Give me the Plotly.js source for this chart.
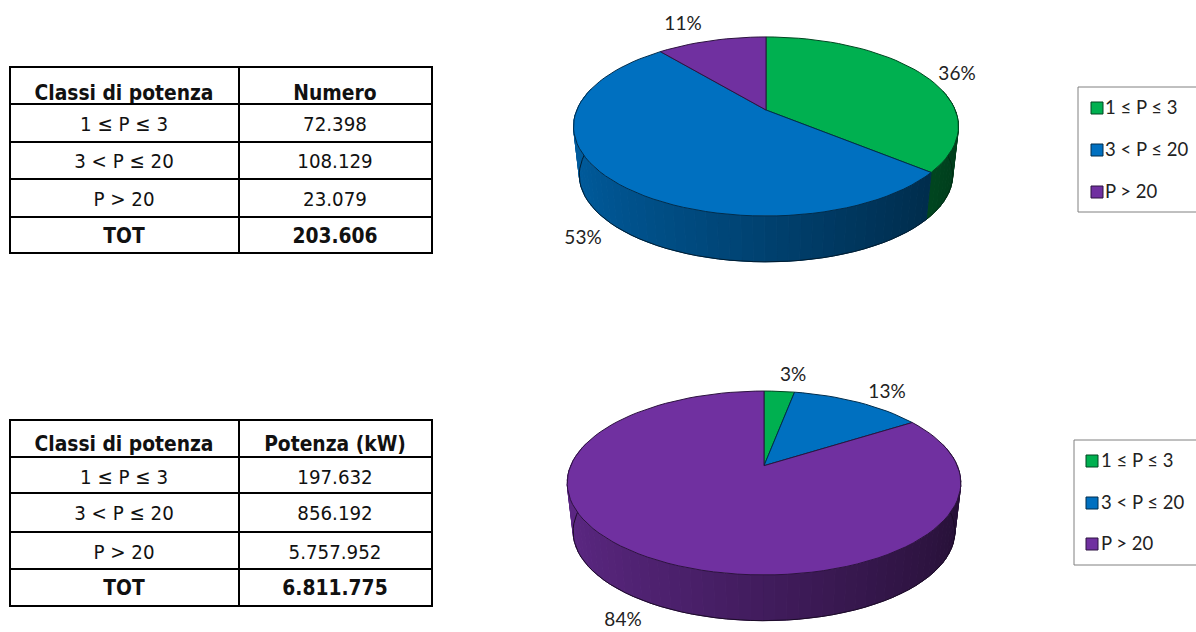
<!DOCTYPE html>
<html><head><meta charset="utf-8">
<script src="https://cdn.plot.ly/plotly-3.0.1.min.js"></script>
<style>html,body{margin:0;padding:0;background:#fff;overflow:hidden}#c{width:1196px;height:632px}</style>
</head><body><div id="c"></div>
<script>
// ---- data ----
const categories = ['1 ≤ P ≤ 3', '3 < P ≤ 20', 'P > 20'];
const numeroShare = [36, 53, 11];
const potenzaShare = [3, 13, 84];
const numeroText = ['72.398', '108.129', '23.079', '203.606'];
const potenzaText = ['197.632', '856.192', '5.757.952', '6.811.775'];
const firstColHeader = 'Classi di potenza';
const totalLabel = 'TOT';
const colors = ['#00B050', '#0070C0', '#7030A0'];

// ---- layout constants ----
const TEXT_FONT = 'DejaVu Sans Condensed, DejaVu Sans, sans-serif';
const LABEL_FONT = 'Lato, Carlito, sans-serif';
const tableX = [10, 239, 432], colCenter = [124, 335];
const tableCfg = [
  {head: 'Numero', body: numeroText, edges: [67, 104, 142, 179, 217, 253], textY: [95, 126, 163, 201, 238]},
  {head: 'Potenza (kW)', body: potenzaText, edges: [420, 457, 493, 532, 569, 606], textY: [446, 479, 515, 554, 590]}
];
const pieCfg = [
  {values: numeroShare, cx: 766, ay: 110, A: 189.2, b: 86.5, k: 0.184, s: 0.97, d: 49,
   labelX: [957, 583, 683], labelY: [75, 239, 25]},
  {values: potenzaShare, cx: 764, ay: 465.7, A: 193.3, b: 88.7, k: 0.188, s: 0.97, d: 49,
   labelX: [793, 887, 623], labelY: [376, 393, 621]}
];
const legendCfg = [
  {box: [1078, 87, 1210, 212], mx: 1097, tx: 1105, y: [108, 150, 192]},
  {box: [1074, 440, 1210, 565], mx: 1092, tx: 1101, y: [461, 503, 544]}
];

const traces = [], shapes = [];
const rgb = h => [1, 3, 5].map(i => parseInt(h.substr(i, 2), 16));
const shade = (h, f) => 'rgb(' + rgb(h).map(c => Math.round(c * f)).join(',') + ')';

function pie3d(cfg) {
  const total = cfg.values.reduce((a, b) => a + b, 0);
  const top = t => {
    const u = Math.sin(t), v = Math.cos(t), w = 1 + cfg.k * v;
    return [cfg.cx + cfg.A * u / w, cfg.ay - cfg.b * v / w];
  };
  const bot = t => {
    const p = top(t);
    return [cfg.cx + cfg.s * (p[0] - cfg.cx), cfg.ay + cfg.s * (p[1] - cfg.ay) + cfg.d];
  };
  let a0 = 0;
  const faces = [];
  cfg.values.forEach((val, i) => {
    const a1 = a0 + val / total * 2 * Math.PI;
    const col = colors[i];
    const step = Math.PI / 60;
    const n = Math.max(1, Math.ceil((a1 - a0) / step));
    const angles = [];
    for (let j = 0; j <= n; j++) angles.push(a0 + (a1 - a0) * j / n);
    for (let j = 0; j < n; j++) {
      const t0 = angles[j], t1 = angles[j + 1];
      if (Math.cos((t0 + t1) / 2) > 0.25) continue;
      const p0 = top(t0), p1 = top(t1), q0 = bot(t0), q1 = bot(t1);
      const f = 0.58 - 0.24 * Math.sin((t0 + t1) / 2);
      const c = shade(col, f);
      traces.push({x: [p0[0], p1[0], q1[0], q0[0], p0[0]], y: [p0[1], p1[1], q1[1], q0[1], p0[1]],
        mode: 'lines', fill: 'toself', fillcolor: c, line: {color: c, width: 1},
        hoverinfo: 'skip', showlegend: false});
    }
    const rim = angles.filter(t => Math.cos(t) < 0.1).map(bot);
    if (rim.length) traces.push({x: rim.map(p => p[0]), y: rim.map(p => p[1]), mode: 'lines',
      line: {color: shade(col, 0.25), width: 1}, hoverinfo: 'skip', showlegend: false});
    const pts = angles.map(top);
    const xs = [cfg.cx].concat(pts.map(p => p[0]), [cfg.cx]);
    const ys = [cfg.ay].concat(pts.map(p => p[1]), [cfg.ay]);
    faces.push({x: xs, y: ys, mode: 'lines', fill: 'toself', fillcolor: col,
      line: {color: shade(col, 0.4), width: 1}, name: categories[i], showlegend: false,
      hoverinfo: 'name'});
    a0 = a1;
  });
  faces.forEach(f => traces.push(f));
  traces.push({x: cfg.labelX, y: cfg.labelY, text: cfg.values.map(v => v + '%'), mode: 'text', textposition: 'middle center',
    textfont: {family: LABEL_FONT, size: 19, color: '#222'}, hoverinfo: 'skip', showlegend: false, cliponaxis: false});
}

function table(cfg) {
  cfg.edges.forEach(y => shapes.push({type: 'line', xref: 'x', yref: 'y', x0: tableX[0] - 1, x1: tableX[2] + 1, y0: y, y1: y,
    line: {color: '#000', width: 2}}));
  tableX.forEach(x => shapes.push({type: 'line', xref: 'x', yref: 'y', x0: x, x1: x, y0: cfg.edges[0], y1: cfg.edges[5],
    line: {color: '#000', width: 2}}));
  const col1 = [firstColHeader].concat(categories, [totalLabel]);
  const col2 = [cfg.head].concat(cfg.body);
  const isBold = i => i === 0 || i === 4;
  [col1, col2].forEach((col, c) => {
    [false, true].forEach(b => {
      const idx = col.map((_, i) => i).filter(i => isBold(i) === b);
      traces.push({x: idx.map(() => colCenter[c]), y: idx.map(i => cfg.textY[i]),
        text: idx.map(i => b ? '<b>' + col[i] + '</b>' : col[i]), mode: 'text',
        textposition: 'middle center', textfont: {family: TEXT_FONT, size: b ? 20.8 : 20.3, color: '#111'},
        hoverinfo: 'skip', showlegend: false, cliponaxis: false});
    });
  });
}

function legend(cfg) {
  shapes.push({type: 'rect', xref: 'x', yref: 'y', x0: cfg.box[0], y0: cfg.box[1], x1: cfg.box[2], y1: cfg.box[3],
    line: {color: '#808080', width: 1}, fillcolor: 'rgba(0,0,0,0)'});
  traces.push({x: categories.map(() => cfg.mx), y: cfg.y, mode: 'markers',
    marker: {symbol: 'square', size: 12, color: colors, line: {color: colors.map(c => shade(c, 0.4)), width: 1}},
    hoverinfo: 'skip', showlegend: false});
  traces.push({x: categories.map(() => cfg.tx), y: cfg.y.map(v => v + 1), text: categories, mode: 'text', textposition: 'middle right',
    textfont: {family: LABEL_FONT, size: 18.5, color: '#222'}, hoverinfo: 'skip', showlegend: false, cliponaxis: false});
}

pieCfg.forEach(pie3d);
tableCfg.forEach(table);
legendCfg.forEach(legend);

Plotly.newPlot('c', traces, {
  width: 1196, height: 632, margin: {l: 0, r: 0, t: 0, b: 0},
  paper_bgcolor: '#fff', plot_bgcolor: '#fff', showlegend: false,
  xaxis: {range: [0, 1196], visible: false, fixedrange: true},
  yaxis: {range: [632, 0], visible: false, fixedrange: true},
  shapes: shapes
}, {displayModeBar: false, staticPlot: true});
</script></body></html>
